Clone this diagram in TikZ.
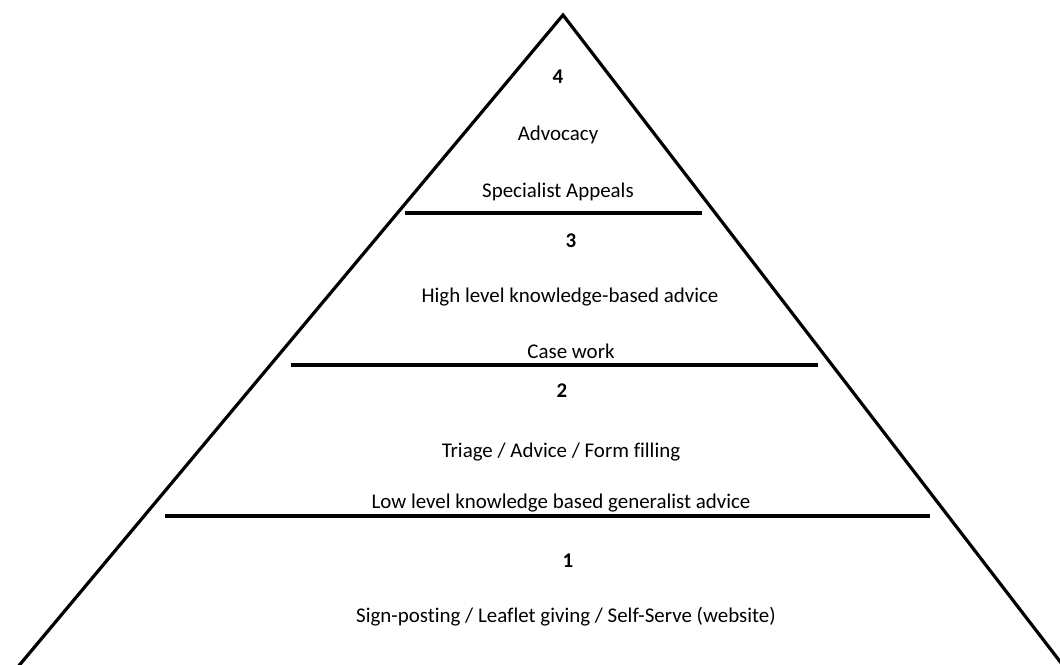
\documentclass[tikz,border=0pt]{standalone}
\usepackage{fontspec}
\setmainfont[Ligatures={NoCommon}]{Carlito}
\begin{document}
\begin{tikzpicture}[x=0.75pt,y=-0.75pt,
  edge/.style={line width=2.4pt,line join=miter},
  bar/.style={line width=2.4pt},
  lbl/.style={anchor=base,inner sep=0pt,font=\fontsize{15.7}{19}\selectfont},
  num/.style={lbl,font=\fontsize{15.7}{19}\selectfont\bfseries}]
\useasboundingbox (0,0) rectangle (1060,664);
\clip (0,0) rectangle (1060,664);
\coordinate (apex) at (563,15);
\coordinate (bl) at (17,668);
\coordinate (br) at (1065,668);
\draw[edge] (bl) -- (apex) -- (br);
\coordinate (a1) at (405,213); \coordinate (a2) at (702,213);
\coordinate (b1) at (291,365); \coordinate (b2) at (818,365);
\coordinate (c1) at (165,516); \coordinate (c2) at (930,516);
\draw[bar] (a1) -- (a2);
\draw[bar] (b1) -- (b2);
\draw[bar] (c1) -- (c2);
\node[num] (n4) at (558,83) {4};
\node[lbl] (t4a) at (558,140) {Advocacy};
\node[lbl] (t4b) at (558,197) {Specialist Appeals};
\node[num] (n3) at (571,247) {3};
\node[lbl] (t3a) at (570,302) {High level knowledge-based advice};
\node[lbl] (t3b) at (571,358) {Case work};
\node[num] (n2) at (562,397) {2};
\node[lbl] (t2a) at (561,457) {Triage / Advice / Form filling};
\node[lbl] (t2b) at (561,508) {Low level knowledge based generalist advice};
\node[num] (n1) at (568,567) {1};
\node[lbl] (t1a) at (566,622) {Sign-posting / Leaflet giving / Self-Serve (website)};
\end{tikzpicture}
\end{document}
